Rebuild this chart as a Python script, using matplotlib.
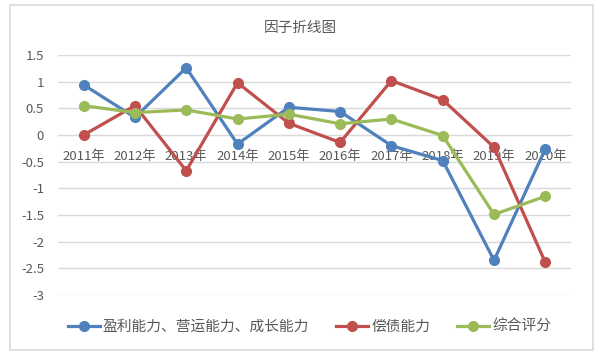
import numpy as np
import matplotlib.pyplot as plt
from matplotlib.patches import Rectangle

plt.rcParams['font.family'] = ['Noto Sans CJK SC', 'DejaVu Sans']

# Dados
anos = ['2011年', '2012年', '2013年', '2014年', '2015年',
        '2016年', '2017年', '2018年', '2019年', '2020年']
yingli = [0.94, 0.33, 1.26, -0.17, 0.52, 0.44, -0.20, -0.48, -2.35, -0.26]
changzhai = [0.00, 0.55, -0.67, 0.98, 0.22, -0.14, 1.02, 0.66, -0.23, -2.39]
zonghe = [0.55, 0.42, 0.47, 0.30, 0.39, 0.21, 0.30, -0.01, -1.49, -1.15]

nomes = ['盈利能力、营运能力、成长能力', '偿债能力', '综合评分']
cores = ['#4F81BD', '#C0504D', '#9BBB59']
cinza = '#595959'

fig = plt.figure(figsize=(6.06, 3.59), dpi=100)
ax = fig.add_axes([0.0957, 0.1783, 0.8465, 0.6685])

# Moldura do gráfico
fig.patches.append(Rectangle((10 / 606, 1 - 350 / 359), 583 / 606, 345 / 359,
                             transform=fig.transFigure, fill=False,
                             edgecolor='#D9D9D9', linewidth=1.2))

x = np.arange(len(anos))
for serie, nome, cor in zip([yingli, changzhai, zonghe], nomes, cores):
    ax.plot(x, serie, color=cor, linewidth=2.3, marker='o', markersize=7,
            label=nome, zorder=3)

ax.set_xlim(-0.5, len(anos) - 0.5)
ax.set_ylim(-3, 1.5)
ax.set_yticks(np.arange(-3, 1.51, 0.5))
ax.set_yticklabels(['-3', '-2.5', '-2', '-1.5', '-1', '-0.5', '0', '0.5', '1', '1.5'])
ax.grid(axis='y', color='#D9D9D9', linewidth=1)
ax.set_axisbelow(True)

# Eixo horizontal cruzando em zero
ax.spines['bottom'].set_position(('data', 0))
ax.spines['bottom'].set_color('#D9D9D9')
for lado in ['top', 'right', 'left']:
    ax.spines[lado].set_visible(False)
ax.set_xticks(x)
ax.set_xticklabels(anos)
ax.tick_params(axis='both', length=0, labelcolor=cinza, labelsize=9.5)
ax.tick_params(axis='x', pad=11)
ax.tick_params(axis='y', pad=10)

fig.text(0.495, 1 - 28 / 359, '因子折线图', ha='center', va='center',
         fontsize=10.5, color=cinza)

ax.legend(loc='center', bbox_to_anchor=(0.49, (295 - 327) / 240), ncol=3,
          frameon=False, fontsize=10.6, labelcolor=cinza, handlelength=2.2,
          columnspacing=1.8, handletextpad=0.2)

fig.savefig('out.png', dpi=100)
